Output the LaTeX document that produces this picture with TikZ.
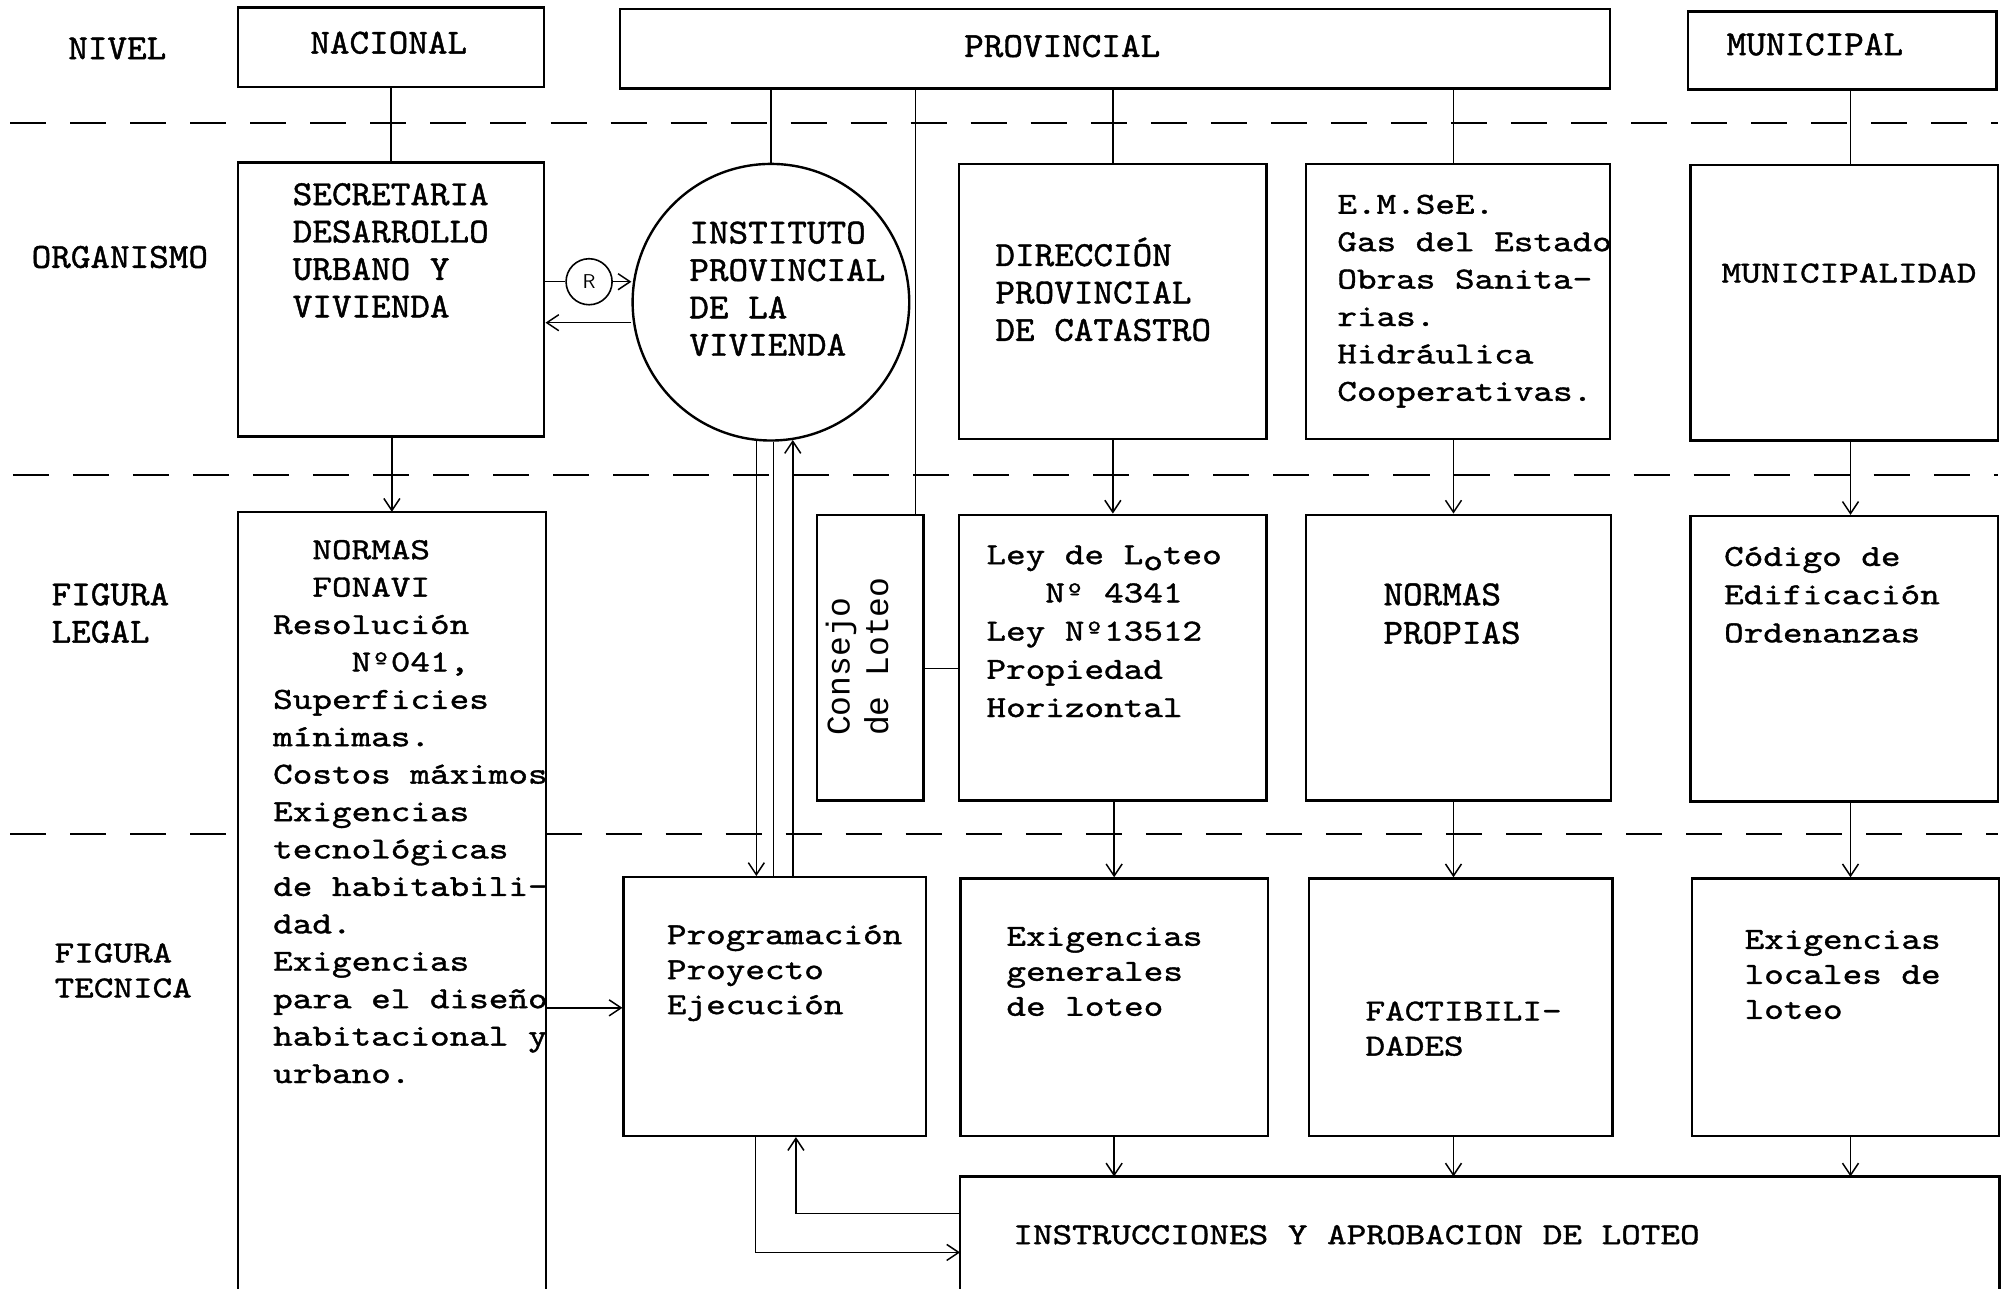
\documentclass[tikz,border=0pt]{standalone}
\usepackage{fontspec}
\newfontfamily\fa[FakeStretch=1.06,FakeBold=1.2]{lmmono10-regular.otf}
\newfontfamily\fb[FakeStretch=1.22,FakeBold=1.2]{lmmono10-regular.otf}
\newfontfamily\fc{Liberation Mono}
\usetikzlibrary{arrows.meta,fit,calc}
\newcommand\FA[1]{\fa\fontsize{17.6pt}{#1}\selectfont}
\newcommand\FB[1]{\fb\fontsize{15.3pt}{#1}\selectfont}
\newcommand\FC[1]{\fc\fontsize{16.5pt}{#1}\selectfont}
\newcommand\tstr{\rule{0pt}{13pt}}
\begin{document}
\begin{tikzpicture}[x=0.64pt,y=-0.64pt,
  box/.style={draw, line width=1.2pt, inner sep=0pt},
  openbox/.style={line width=1.2pt},
  conn/.style={line width=0.75pt},
  arr/.style={line width=0.75pt, -{Straight Barb[length=6pt,width=8pt]}},
  divider/.style={line width=1pt, dash pattern=on 18pt off 12pt},
  ta/.style={inner sep=0pt, anchor=north west, align=left, font={\FA{18.7pt}}},
  tb/.style={inner sep=0pt, anchor=north west, align=left, font={\FB{18.7pt}}},
  tc/.style={inner sep=0pt, anchor=north west, align=left, font={\FB{17.5pt}}}
]
\useasboundingbox (0,0) rectangle (1568,1006);

% dashed level dividers
\draw[divider] (8,96) -- (1560,96);
\draw[divider] (10,371) -- (1560,371);
\draw[divider] (8,651) -- (186,651);
\draw[divider] (426,651) -- (1560,651);

% ---- level boxes
\node[box, fit={(186,6) (425,68)}] (nac) {};
\node[box, fit={(484,7) (1257,69)}] (prov) {};
\node[box, fit={(1318,9) (1559,70)}] (mun) {};

% ---- organismo row
\node[box, fit={(186,127) (425,341)}] (sec) {};
\node[draw, circle, line width=1.2pt, minimum size=138.24pt, inner sep=0pt] (ipv) at (602,236) {};
\node[box, fit={(749,128) (989,343)}] (dir) {};
\node[box, fit={(1020,128) (1257,343)}] (ems) {};
\node[box, fit={(1320,129) (1560,344)}] (muni) {};
\node[draw, circle, line width=0.8pt, minimum size=23pt, inner sep=0pt,
      font=\sffamily\fontsize{10pt}{10pt}\selectfont] (rc) at (460,220) {R};

% ---- figura legal row
\node[fit={(186,400) (426,1006)}, inner sep=0pt] (nf) {};
\draw[openbox] (nf.south west) -- (nf.north west) -- (nf.north east) -- (nf.south east);
\node[box, fit={(638,402) (721,625)}] (cons) {};
\node[box, fit={(749,402) (989,625)}] (ley) {};
\node[box, fit={(1020,402) (1258,625)}] (np) {};
\node[box, fit={(1320,403) (1560,626)}] (cod) {};

% ---- figura tecnica row
\node[box, fit={(487,685) (723,887)}] (prog) {};
\node[box, fit={(750,686) (990,887)}] (exg) {};
\node[box, fit={(1022,686) (1259,887)}] (fac) {};
\node[box, fit={(1321,686) (1561,887)}] (exl) {};
\node[fit={(750,919) (1561,1006)}, inner sep=0pt] (ins) {};
\draw[openbox] (ins.south west) -- (ins.north west) -- (ins.north east) -- (ins.south east);

% ---- texts
\node[ta] (t-nivel) at (53,25.6) {\tstr NIVEL};
\node[ta] (t-nac) at (242,21.2) {\tstr NACIONAL};
\node[ta] (t-prov) at (752.6,23.8) {\tstr PROVINCIAL};
\node[ta] (t-mun) at (1348,22.5) {\tstr MUNICIPAL};
\node[ta] (t-org) at (24.4,188.5) {\tstr ORGANISMO};
\node[ta] (t-sec) at (228.3,139.5) {\tstr SECRETARIA\\DESARROLLO\\URBANO Y\\VIVIENDA};
\node[ta] (t-ipv) at (538,169.5) {\tstr INSTITUTO\\PROVINCIAL\\DE LA\\VIVIENDA};
\node[ta] (t-dir) at (777,185.2) {\tstr DIRECCIÓN\\PROVINCIAL\\DE CATASTRO};
\node[tb] (t-ems) at (1044,146.3) {\tstr E.M.SeE.\\Gas del Estado\\Obras Sanita-\\rias.\\Hidráulica\\Cooperativas.};
\node[tb] (t-muni) at (1344,200) {\tstr MUNICIPALIDAD};
\node[ta] (t-fl) at (40,452) {\tstr FIGURA\\LEGAL};
\node[tb] (t-nf) at (213,416) {\tstr\phantom{MM}NORMAS\\\phantom{MM}FONAVI\\Resolución\\\phantom{MMMM}Nº041,\\Superficies\\mínimas.\\Costos máximos\\Exigencias\\tecnológicas\\de habitabili-\\dad.\\Exigencias\\para el diseño\\habitacional y\\urbano.};
\node[tb, rotate=90, font={\FC{19.2pt}}] (t-cons) at (642.8,575) {\tstr Consejo\\de Loteo};
\node[tb, font={\FB{19.1pt}}] (t-ley) at (770,419.9) {\tstr Ley de L\raisebox{-0.45ex}{o}teo\\\phantom{MMM}Nº 4341\\Ley Nº13512\\Propiedad\\Horizontal};
\node[ta, font={\FA{19.2pt}}] (t-np) at (1080,452) {\tstr NORMAS\\PROPIAS};
\node[tb, font={\FB{19.1pt}}] (t-cod) at (1346,421.3) {\tstr Código de\\Edificación\\Ordenanzas};
\node[tc] (t-ft) at (42.3,730.9) {\tstr FIGURA\\TECNICA};
\node[tc] (t-prog) at (520.5,716.6) {\tstr Programación\\Proyecto\\Ejecución};
\node[tc] (t-exg) at (785.6,717.9) {\tstr Exigencias\\generales\\de loteo};
\node[tc] (t-fac) at (1066,776.3) {\tstr FACTIBILI-\\DADES};
\node[tc] (t-exl) at (1362,720.3) {\tstr Exigencias\\locales de\\loteo};
\node[tc] (t-ins) at (791,950.9) {\tstr INSTRUCCIONES Y APROBACION DE LOTEO};

% ---- column coordinates
\coordinate (xN) at (306,0);
\coordinate (xC) at (715,0);
\coordinate (xD) at (870,0);
\coordinate (xE) at (1135,0);
\coordinate (xM) at (1445,0);
\coordinate (yb) at (0,252);
\coordinate (ycl) at (0,522);
\coordinate (yp) at (0,787);
\coordinate (la) at (621.5,947.5);
\coordinate (lb) at (590,978);

% ---- connectors from level boxes
\draw[conn] (nac.south) -- (sec.north);
\draw[conn] (ipv.north |- prov.south) -- (ipv.north);
\draw[conn] (xC |- prov.south) -- (xC |- cons.north);
\draw[conn] (dir.north |- prov.south) -- (dir.north);
\draw[conn] (xE |- prov.south) -- (xE |- ems.north);
\draw[conn] (xM |- mun.south) -- (xM |- muni.north);

% ---- secretaria / instituto
\draw[conn] (sec.east |- rc) -- (rc.west);
\draw[arr] (rc.east) -- (rc.east -| ipv.west);
\draw[arr] (ipv.west |- yb) -- (sec.east |- yb);

% ---- downward arrows
\draw[arr] (xN |- sec.south) -- (xN |- nf.north);
\draw[arr] (dir.south) -- (dir.south |- ley.north);
\draw[arr] (xE |- ems.south) -- (xE |- np.north);
\draw[arr] (xM |- muni.south) -- (xM |- cod.north);
\draw[arr] (xD |- ley.south) -- (xD |- exg.north);
\draw[arr] (xE |- np.south) -- (xE |- fac.north);
\draw[arr] (xM |- cod.south) -- (xM |- exl.north);
\draw[arr] (xD |- exg.south) -- (xD |- ins.north);
\draw[arr] (xE |- fac.south) -- (xE |- ins.north);
\draw[arr] (xM |- exl.south) -- (xM |- ins.north);

% ---- consejo - ley
\draw[conn] (cons.east |- ycl) -- (ley.west |- ycl);

% ---- instituto - programacion
\draw[arr] (ipv.-96) -- (ipv.-96 |- prog.north);
\draw[conn] (ipv.-89) -- (ipv.-89 |- prog.north);
\draw[arr] (ipv.-81 |- prog.north) -- (ipv.-81);

% ---- normas - programacion
\draw[arr] (nf.east |- yp) -- (prog.west |- yp);

% ---- programacion - instrucciones loops
\draw[arr] (ins.west |- la) -- (la) -- (la |- prog.south);
\draw[arr] (lb |- prog.south) -- (lb) -- (lb -| ins.west);
\end{tikzpicture}
\end{document}
